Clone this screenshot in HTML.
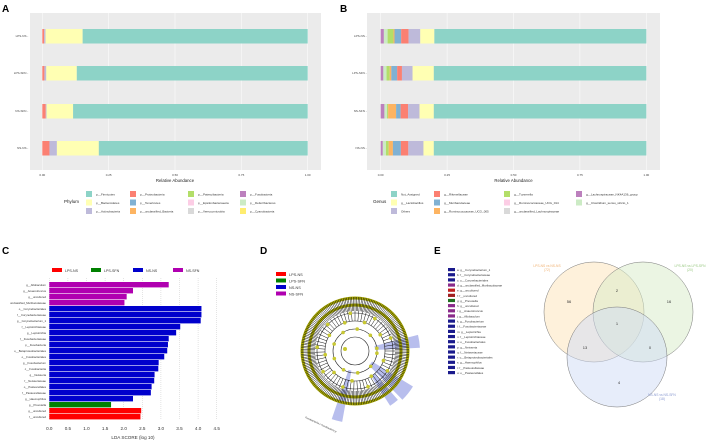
<!DOCTYPE html>
<html><head><meta charset="utf-8"><style>
body{margin:0;background:#fff;width:708px;height:442px;overflow:hidden}
svg{font-family:"Liberation Sans",sans-serif;display:block}
</style></head><body>
<svg id="s" width="708" height="442" viewBox="0 0 708 442">
<text x="2" y="12" font-size="10" font-weight="bold">A</text>
<text x="340" y="12" font-size="10" font-weight="bold">B</text>
<text x="2" y="254" font-size="10" font-weight="bold">C</text>
<text x="260" y="254" font-size="10" font-weight="bold">D</text>
<text x="434" y="254" font-size="10" font-weight="bold">E</text>
<rect x="30" y="13" width="291" height="157" fill="#ebebeb"/>
<rect x="367" y="13" width="293" height="157" fill="#ebebeb"/>
<g id="ga"></g><g id="gb"></g><g id="gc"></g><g id="gd"></g><g id="ge"></g>
</svg>
<script>
const groups=["LPS-NS","LPS-SFN","NS-SFN","NS-NS"];
const phyla=["p__Firmicutes","p__Bacteroidetes","p__Actinobacteria","p__Proteobacteria","p__Tenericutes","p__unclassified_Bacteria","p__Patescibacteria","p__Epsilonbacteraeota","p__Verrucomicrobia","p__Fusobacteria","p__Deferribacteres","p__Cyanobacteria"];
const phylaColors=["#8dd3c7","#ffffb3","#bebada","#fb8072","#80b1d3","#fdb462","#b3de69","#fccde5","#d9d9d9","#bc80bd","#ccebc5","#ffed6f"];
const phylumStack=[3,2,1,0];
const phylaVals=[[0.007,0.005,0.140,0.848],[0.008,0.007,0.115,0.870],[0.013,0.003,0.100,0.884],[0.027,0.028,0.158,0.787]];
const ticksAB=[0,0.25,0.5,0.75,1];
const tickLabAB=["0.00","0.25","0.50","0.75","1.00"];
const genera=["Not_Assigned","g__Lactobacillus","Others","g__Rikenellaceae","g__Muribaculaceae","g__Ruminococcaceae_UCG_005","g__Tuzzerella","g__Ruminococcaceae_UCG_014","g__unclassified_Lachnospiraceae","g__Lachnospiraceae_NK4A136_group","g__Clostridium_sensu_stricto_1"];
const genColors=["#8dd3c7","#ffffb3","#bebada","#fb8072","#80b1d3","#fdb462","#b3de69","#fccde5","#d9d9d9","#bc80bd","#ccebc5"];
const genusStack=[9,10,6,5,4,3,2,1,0];
const genusVals=[[0.012,0.014,0.022,0.004,0.025,0.028,0.044,0.053,0.798],[0.010,0.012,0.012,0.006,0.022,0.018,0.040,0.080,0.800],[0.014,0.010,0.004,0.030,0.017,0.028,0.043,0.054,0.800],[0.008,0.012,0.010,0.016,0.030,0.028,0.057,0.039,0.800]];
const ldaNames=["g__Allobaculum","g__Anaerotruncus","g__uncultured","unclassified_Muribaculaceae","o__Corynebacteriales","f__Corynebacteriaceae","g__Corynebacterium_1","f__Leptotrichiaceae","g__Leptotrichia","f__Fusobacteriaceae","p__Fusobacteria","o__Betaproteobacteriales","o__Fusobacteriales","g__Fusobacterium","c__Fusobacteriia","g__Neisseria","f__Neisseriaceae","o__Pasteurellales","f__Pasteurellaceae","g__Haemophilus","g__Prevotella","g__uncultured","f__uncultured"];
const ldaVals=[3.21,2.25,2.08,2.02,4.09,4.09,4.07,3.52,3.41,3.21,3.19,3.17,3.09,2.94,2.93,2.83,2.82,2.75,2.73,2.25,1.66,2.47,2.45];
const ldaGroup=[3,3,3,3,2,2,2,2,2,2,2,2,2,2,2,2,2,2,2,2,1,0,0];
const ldaClassNames=["LPS-NS","LPS-SFN","NS-NS","NS-SFN"];
const ldaColors=["#ff0000","#008000","#0000cc","#b000b0"];
const ldaTicks=[0,0.5,1,1.5,2,2.5,3,3.5,4,4.5];
const cladeLetters=["a: g__Corynebacterium_1","b: f__Corynebacteriaceae","c: o__Corynebacteriales","d: g__unclassified_Muribaculaceae","e: g__uncultured","f: f__uncultured","g: g__Prevotella","h: g__uncultured","i: g__Anaerotruncus","j: g__Allobaculum","k: g__Fusobacterium","l: f__Fusobacteriaceae","m: g__Leptotrichia","n: f__Leptotrichiaceae","o: o__Fusobacteriales","p: g__Neisseria","q: f__Neisseriaceae","r: o__Betaproteobacteriales","s: g__Haemophilus","t: f__Pasteurellaceae","u: o__Pasteurellales"];
const cladeCol=["#1a1a8c","#1a1a8c","#1a1a8c","#8a2a8a","#c02020","#a02020","#207020","#8a2a8a","#8a2a8a","#8a2a8a","#1a1a8c","#1a1a8c","#1a1a8c","#1a1a8c","#1a1a8c","#1a1a8c","#1a1a8c","#1a1a8c","#1a1a8c","#1a1a8c","#1a1a8c"];
const vennCounts=[56,2,16,1,13,0,4];
const vennSets=["LPS-NS vs NS-NS","LPS-NS vs LPS-SFN","NS-NS vs NS-SFN"];
const vennTotals=[72,20,18];

const NS="http://www.w3.org/2000/svg";
function mk(p,t,a,txt){const e=document.createElementNS(NS,t);for(const k in a)e.setAttribute(k,a[k]);if(txt!==undefined)e.textContent=txt;p.appendChild(e);return e;}

function stackPanel(g,x0,x1,vals,stack,cols,leg,legCols,title,lx,colX){
  const sx=v=>x0+v*(x1-x0);
  const rowY=[36,73,111,148];
  ticksAB.forEach((t,i)=>{
    let l=mk(g,'line',{x1:sx(t),x2:sx(t),y1:13,y2:170,stroke:'#fff','stroke-width':0.5});
    
    let tx=mk(g,'text',{x:sx(t),y:176,'font-size':3,'text-anchor':'middle',fill:'#444'},tickLabAB[i]);
    
  });
  let at=mk(g,'text',{x:(x0+x1)/2,y:182,'font-size':4.3,'text-anchor':'middle',fill:'#222'},'Relative Abundance');
  
  groups.forEach((gr,r)=>{
    let yl=mk(g,'text',{x:x0-14,y:rowY[r]+1,'font-size':3,'text-anchor':'end',fill:'#444'},gr+' -');
    
    let c=0;
    stack.forEach((k,j)=>{
      const v=vals[r][j];
      let b=mk(g,'rect',{x:sx(c),y:rowY[r]-7,width:Math.max(0,sx(c+v)-sx(c)),height:14.5,fill:cols[k]});
      
      c+=v;
    });
  });
  let tt=mk(g,'text',{x:lx,y:203,'font-size':4.5,fill:'#222'},title);
  
  leg.forEach((n,i)=>{
    const col=Math.floor(i/3),row=i%3,y=191+row*8.5;
    let r=mk(g,'rect',{x:colX[col],y:y,width:6,height:6,fill:legCols[i]});
    
    let t=mk(g,'text',{x:colX[col]+10,y:y+4.3,'font-size':3,fill:'#333'},n);
    
  });
}
stackPanel(document.getElementById('ga'),42.3,307.7,phylaVals,phylumStack,phylaColors,
  phyla.slice(),phylaColors,'Phylum',64,[86,130,188,240]);
stackPanel(document.getElementById('gb'),380.7,646.3,genusVals,genusStack,genColors,
  genera.slice(),genColors,'Genus',373,[391,434,504,576]);

// Panel C
(function(){
  const g=document.getElementById('gc');
  const x0=49.3,u=37.2,y0=282,bh=6;
  const sx=v=>x0+v*u;
  ldaTicks.forEach(t=>{
    let l=mk(g,'line',{x1:sx(t),x2:sx(t),y1:278,y2:420,stroke:'#bbb','stroke-width':0.4,'stroke-dasharray':'1,1'});
    
    let tx=mk(g,'text',{x:sx(t),y:430,'font-size':4.6,'text-anchor':'middle',fill:'#333'},t.toFixed(1));
    
  });
  ldaVals.forEach((v,i)=>{
    let b=mk(g,'rect',{x:x0,y:y0+i*bh,width:v*u,height:bh-0.6,fill:ldaColors[ldaGroup[i]]});
    
    let t=mk(g,'text',{x:46,y:y0+i*bh+4,'font-size':2.8,'text-anchor':'end',fill:'#333'},ldaNames[i]);
    
  });
  let at=mk(g,'text',{x:sx(2.25),y:439,'font-size':4.6,'text-anchor':'middle',fill:'#333'},'LDA SCORE (log 10)');
  
  const lx=[52,91,133,173];
  ldaClassNames.forEach((n,i)=>{
    let r=mk(g,'rect',{x:lx[i],y:268,width:10,height:4,fill:ldaColors[i]});
    
    let t=mk(g,'text',{x:lx[i]+13,y:272,'font-size':3.6,fill:'#333'},n);
    
  });
})();

// Panel D cladogram (decorative)
(function(){
  const g=document.getElementById('gd');
  const cx=355,cy=351;
  ["LPS-NS","LPS-SFN","NS-NS","NS-SFN"].forEach((n,i)=>{
    const c=["#ff0000","#008000","#0000cc","#b000b0"][i];
    let r=mk(g,'rect',{x:276,y:272+i*6.5,width:10,height:4,fill:c});
    
    let t=mk(g,'text',{x:289,y:276+i*6.5,'font-size':3.8,fill:'#333'},n);
    
  });
  function sector(a1,a2,r1,r2,col){
    const p=(a,r)=>[cx+r*Math.cos(a),cy+r*Math.sin(a)];
    const A=p(a1,r1),B=p(a2,r1),C=p(a2,r2),D=p(a1,r2);
    let e=mk(g,'path',{d:`M${A}L${D}A${r2},${r2} 0 0 1 ${C}L${B}A${r1},${r1} 0 0 0 ${A}Z`,fill:col,opacity:0.35});
    
  }
  sector(-0.25,-0.05,20,65,'#3344cc');
  sector(0.55,0.8,20,68,'#3344cc');
  sector(0.85,1.0,30,65,'#3344cc');
  sector(1.75,1.9,20,72,'#3344cc');
  const rings=[14,22,30,38,46,53];
  rings.forEach((r,i)=>{
    let c=mk(g,'circle',{cx,cy,r,fill:'none',stroke:i>3?'#a8a800':'#222','stroke-width':i>3?3:0.6});
    
  });
  for(let k=0;k<200;k++){
    const a=k/200*Math.PI*2, r1=(k%3==0)?30:40;
    let l=mk(g,'line',{x1:cx+r1*Math.cos(a),y1:cy+r1*Math.sin(a),x2:cx+54*Math.cos(a),y2:cy+54*Math.sin(a),stroke:'#111','stroke-width':0.5});
    
  }
  for(let k=0;k<28;k++){
    const a=k/28*Math.PI*2+0.1, r=[22,30,38][k%3];
    let c=mk(g,'circle',{cx:cx+r*Math.cos(a),cy:cy+r*Math.sin(a),r:1.8,fill:'#c8c832'});
    
  }
  let c0=mk(g,'circle',{cx:cx-10,cy:cy-2,r:2,fill:'#c8c832'});
  
  let lb=mk(g,'text',{x:305,y:418,'font-size':2.5,fill:'#333',transform:'rotate(25 305 418)'},'Fusobacteriia c  Fusobacteria p');
  
})();

// Panel E
(function(){
  const g=document.getElementById('ge');
  cladeLetters.forEach((n,i)=>{
    const y=268+i*5.15;
    let r=mk(g,'rect',{x:448,y:y,width:7,height:3.2,fill:cladeCol[i]});
    
    let t=mk(g,'text',{x:457,y:y+3,'font-size':2.9,fill:'#333'},n);
    
  });
  const circ=[[594,312,'#fde3b8'],[643,312,'#d8ecc8'],[617,357,'#cfdcf5']];
  circ.forEach((c,i)=>{
    let e=mk(g,'circle',{cx:c[0],cy:c[1],r:50,fill:c[2],'fill-opacity':0.5,stroke:'#777','stroke-width':0.5});
    
  });
  const pos=[[569,303],[617,292],[669,303],[617,325],[585,349],[650,349],[619,384]];
  vennCounts.forEach((v,i)=>{
    let t=mk(g,'text',{x:pos[i][0],y:pos[i][1],'font-size':4,'text-anchor':'middle',fill:'#333'},String(v));
    
  });
  const lp=[[547,267,'#f0b070'],[690,267,'#98c880'],[662,396,'#8898d0']];
  vennSets.forEach((n,i)=>{
    let t=mk(g,'text',{x:lp[i][0],y:lp[i][1],'font-size':3.3,'text-anchor':'middle',fill:lp[i][2]},n);
    
    let t2=mk(g,'text',{x:lp[i][0],y:lp[i][1]+4,'font-size':3.3,'text-anchor':'middle',fill:lp[i][2]},'('+vennTotals[i]+')');
    
  });
})();
</script>
</body></html>
